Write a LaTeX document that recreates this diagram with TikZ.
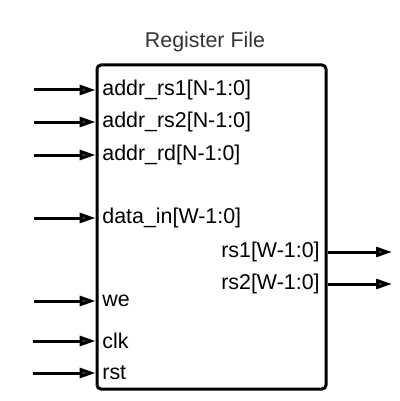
\documentclass[tikz,border=0pt]{standalone}
\usepackage{fontspec}
\setmainfont{Liberation Sans}
\usetikzlibrary{arrows.meta,positioning}
\definecolor{titlegray}{RGB}{51,51,51}
\definecolor{tipgray}{RGB}{90,90,90}
\tikzset{
	block/.style={
		rectangle,
		rounded corners=2pt,
		draw=black,
		line width=1.5pt,
		minimum width=114.5pt,
		minimum height=162pt,
	},
	port/.style={
		inner sep=0pt,
		font=\fontsize{10.7}{12}\selectfont,
	},
	title/.style={
		inner sep=0pt,
		text=titlegray,
		font=\fontsize{10.7}{12}\selectfont,
	},
	arc/.style={
		-{Triangle[length=8pt,width=5pt,fill=tipgray]},
		line width=1.5pt,
	},
}

\begin{document}
\begin{tikzpicture}[x=0.5pt,y=-0.5pt]
	\useasboundingbox (0,0) rectangle (400,401);

	\node [block] (rf) at (211.5,227) {};
	\node [title, anchor=base] (name) at (205,48) {Register File};

	% inputs
	\node [port, anchor=west] (addrrs1) at (102,90) {addr\_rs1[N-1:0]};
	\node [port, anchor=west] (addrrs2) at (102,122) {addr\_rs2[N-1:0]};
	\node [port, anchor=west] (addrrd) at (102,155) {addr\_rd[N-1:0]};
	\node [port, anchor=west] (datain) at (102,218) {data\_in[W-1:0]};
	\node [port, anchor=west] (we) at (102,301) {we};
	\node [port, anchor=west] (clk) at (102,341) {clk};
	\node [port, anchor=west] (rst) at (102,373) {rst};

	% outputs
	\node [port, anchor=east] (rs1) at (320,252) {rs1[W-1:0]};
	\node [port, anchor=east] (rs2) at (320,284) {rs2[W-1:0]};

	\coordinate (inaddrrs1) at (34,90);
	\coordinate (inaddrrs2) at (34,122);
	\coordinate (inaddrrd) at (34,155);
	\coordinate (indatain) at (34,218);
	\coordinate (inwe) at (34,301);
	\coordinate (inclk) at (33,341);
	\coordinate (inrst) at (33,373);
	\coordinate (outrs1) at (392,252);
	\coordinate (outrs2) at (392,284);

	\draw[arc] (inaddrrs1) -- (inaddrrs1 -| rf.west);
	\draw[arc] (inaddrrs2) -- (inaddrrs2 -| rf.west);
	\draw[arc] (inaddrrd) -- (inaddrrd -| rf.west);
	\draw[arc] (indatain) -- (indatain -| rf.west);
	\draw[arc] (inwe) -- (inwe -| rf.west);
	\draw[arc] (inclk) -- (inclk -| rf.west);
	\draw[arc] (inrst) -- (inrst -| rf.west);

	\draw[arc] (outrs1 -| rf.east) -- (outrs1);
	\draw[arc] (outrs2 -| rf.east) -- (outrs2);
\end{tikzpicture}
\end{document}
